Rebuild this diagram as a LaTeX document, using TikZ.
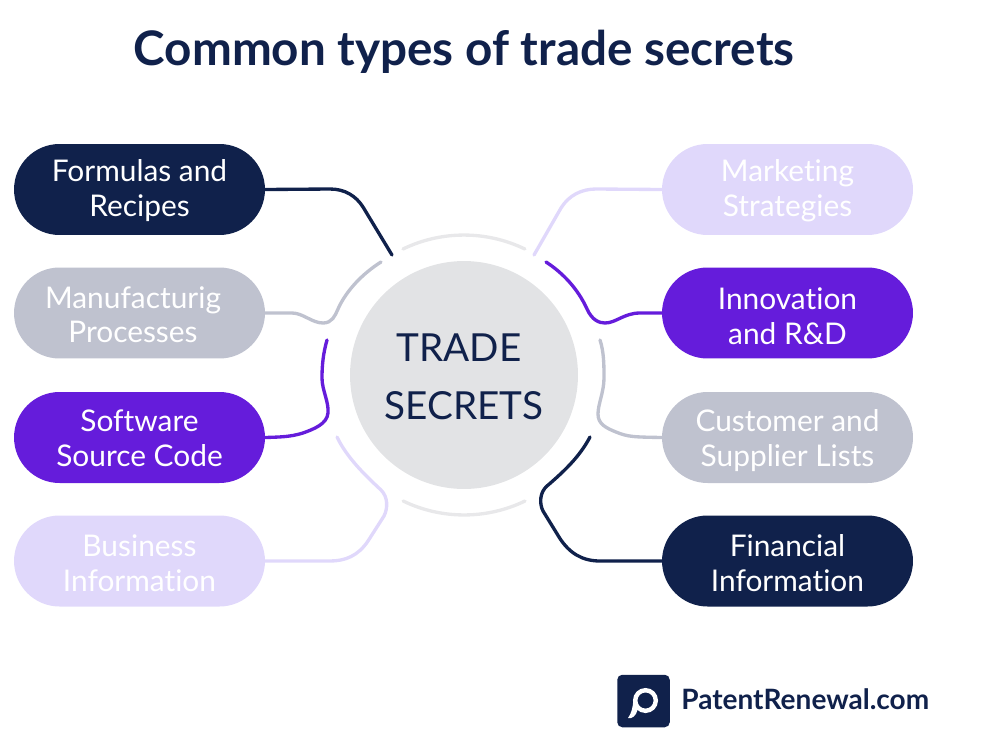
\documentclass[tikz,border=0pt]{standalone}
\usepackage{fontspec}
\setmainfont[Ligatures=NoCommon]{Lato}
\definecolor{navy}{HTML}{10214B}
\definecolor{slate}{HTML}{BFC2CF}
\definecolor{violet}{HTML}{651CDB}
\definecolor{lilac}{HTML}{E0D8FB}
\definecolor{hub}{HTML}{E2E3E5}
\definecolor{ring}{HTML}{E8E8EA}
\newcommand{\twolines}[3]{\rule{0pt}{#1pt}#2\\#3\rule[-6pt]{0pt}{0pt}}
\tikzset{
	pill/.style={minimum width=5.02cm,minimum height=1.82cm,rounded corners=0.91cm,inner sep=0pt,align=center,text=white,font=\fontsize{17}{19.85}\selectfont},
	link/.style={line width=1.9pt,line cap=round}
}

\begin{document}
\begin{tikzpicture}[x=0.02cm,y=-0.02cm]
\useasboundingbox (0,0) rectangle (990,754);
\node[anchor=base,text=navy,font=\fontsize{27.1}{30}\selectfont\bfseries] (title) at (464,65) {Common types of trade secrets};
% centre
\node[circle,fill=hub,minimum size=4.56cm,inner sep=0pt,align=center,text=navy,font=\fontsize{22}{32.9}\selectfont] (hub) at (464,375) {\twolines{23.5}{TRADE\hspace*{5.7pt}}{SECRETS}};
\draw[ring,line width=1.9pt,line cap=round] (403,249) arc (244.2:295.8:140);
\draw[ring,line width=1.9pt,line cap=round] (525,501) arc (64.2:115.8:140);
% left column
\node[pill,fill=navy] (formulas) at (139.5,189.5) {\twolines{16.7}{Formulas and}{Recipes}};
\node[pill,fill=slate] (process) at (139.5,313) {\twolines{20.2}{Manufacturig\hspace*{7.4pt}}{Processes\hspace*{7.4pt}}};
\node[pill,fill=violet] (software) at (139.5,437.5) {\twolines{18.9}{Software}{Source Code}};
\node[pill,fill=lilac] (business) at (139.5,561) {\twolines{21}{Business}{Information}};
% right column
\node[pill,fill=lilac] (marketing) at (787.5,189.5) {\twolines{16.7}{Marketing}{Strategies}};
\node[pill,fill=violet] (innovation) at (787.5,313) {\twolines{22.3}{Innovation}{and R\&D}};
\node[pill,fill=slate] (customer) at (787.5,437.5) {\twolines{18.9}{Customer and}{Supplier Lists}};
\node[pill,fill=navy] (financial) at (787.5,561) {\twolines{21}{Financial}{Information}};
% free ends at the ring
\coordinate (endA) at (392,255);
\coordinate (endB) at (381,262);
\coordinate (endC) at (327,340);
\coordinate (endD) at (337,437);
\coordinate (endE) at (534,255);
\coordinate (endF) at (546,262);
\coordinate (endG) at (600,340);
\coordinate (endH) at (590,437);
% connectors
\draw[link,navy] (formulas.east) -- (330,189) .. controls (345,189) and (356,196) .. (363,207) -- (endA);
\draw[link,slate] (process.east) -- (292,313) .. controls (303,313) and (312,323) .. (323,323) .. controls (332,323) and (335,316) .. (338,309) .. controls (346,291) and (362,274) .. (endB);
\draw[link,violet] (endC) .. controls (323,354) and (322,366) .. (322,378) .. controls (322,390) and (329,402) .. (328,413) .. controls (327,424) and (314,429) .. (303,433) .. controls (290,437) and (280,437) .. (software.east);
\draw[link,lilac] (endD) .. controls (347,458) and (366,476) .. (381,490) .. controls (388,497) and (388,508) .. (384,516) -- (368,541) .. controls (358,556) and (345,561) .. (330,561) -- (business.east);
\draw[link,lilac] (marketing.west) -- (596,189) .. controls (582,189) and (569,195) .. (561,208) -- (endE);
\draw[link,violet] (endF) .. controls (563,273) and (578,289) .. (587,309) .. controls (592,320) and (599,323) .. (605,323) .. controls (616,323) and (624,313) .. (640,313) -- (innovation.west);
\draw[link,slate] (endG) .. controls (604,352) and (604,366) .. (604,378) .. controls (604,392) and (598,404) .. (598,414) .. controls (598,424) and (606,428) .. (616,432) .. controls (628,437) and (634,437) .. (customer.west);
\draw[link,navy] (endH) .. controls (579,458) and (562,473) .. (547,486) .. controls (540,492) and (539,503) .. (543,511) -- (559,537) .. controls (569,553) and (582,561) .. (600,561) -- (financial.west);
% logo
\node[fill=navy,rounded corners=0.1cm,minimum size=1.05cm,inner sep=0pt] (logo) at (643.5,701) {};
\draw[white,line width=2.5pt] (645.5,700.5) circle (10.3);
\fill[white] (633.2,700) .. controls (633,708) and (631,714) .. (628,718) .. controls (632,719) and (636,716) .. (637.5,710) -- cycle;
\node[anchor=base west,inner sep=0pt,text=navy,font=\fontsize{15.95}{18}\selectfont\bfseries] (brand) at (681,709) {PatentRenewal.com};
\end{tikzpicture}
\end{document}
